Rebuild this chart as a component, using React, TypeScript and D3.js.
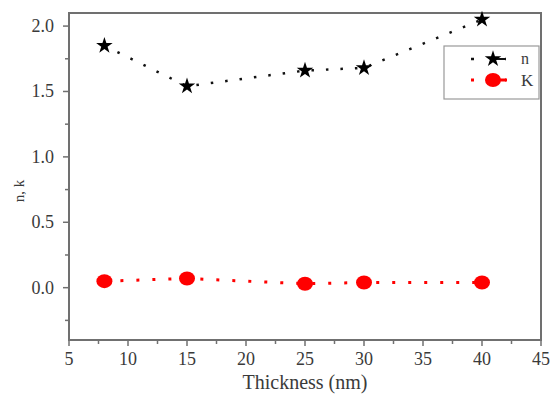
import React, { useRef, useEffect } from "react";
import * as d3 from "d3";

const thickness = [8, 15, 25, 30, 40];
const nValues = [1.85, 1.54, 1.66, 1.68, 2.05];
const kValues = [0.05, 0.07, 0.03, 0.04, 0.04];
const xTicks = [5, 10, 15, 20, 25, 30, 35, 40, 45];
const yTicks = [0, 0.5, 1.0, 1.5, 2.0];

export default function App() {
  const svgRef = useRef<SVGSVGElement>(null);

  useEffect(() => {
    const width = 558;
    const height = 394;
    const svg = d3.select(svgRef.current);
    svg.selectAll("*").remove();
    svg.attr("width", width).attr("height", height);

    const left = 69, right = 541, top = 13, bottom = 340;
    const x = d3.scaleLinear().domain([5, 45]).range([left, right]);
    const y = d3.scaleLinear().domain([-0.4, 2.1]).range([bottom, top]);
    const font = "Liberation Serif, DejaVu Serif, serif";
    const axisColor = "#707070";
    const textColor = "#3a3a3a";

    // frame
    svg.append("rect")
      .attr("x", left).attr("y", top)
      .attr("width", right - left).attr("height", bottom - top)
      .attr("fill", "none").attr("stroke", axisColor).attr("stroke-width", 2);

    // x ticks
    const xMinor = d3.range(5, 45.01, 2.5);
    svg.selectAll(".xt").data(xMinor).enter().append("line")
      .attr("x1", d => x(d)).attr("x2", d => x(d))
      .attr("y1", bottom).attr("y2", d => bottom + (d % 5 === 0 ? 6 : 4))
      .attr("stroke", axisColor).attr("stroke-width", 1.5);
    svg.selectAll(".xl").data(xTicks).enter().append("text")
      .attr("x", d => x(d)).attr("y", 365)
      .attr("text-anchor", "middle")
      .style("font-family", font).attr("font-size", 18).attr("fill", textColor)
      .text(d => d);

    // y ticks
    const yMinor = d3.range(-0.25, 2.01, 0.25);
    svg.selectAll(".yt").data(yMinor).enter().append("line")
      .attr("x1", left).attr("x2", d => left - (Math.abs(d * 2 - Math.round(d * 2)) < 1e-6 ? 6 : 4))
      .attr("y1", d => y(d)).attr("y2", d => y(d))
      .attr("stroke", axisColor).attr("stroke-width", 1.5);
    svg.selectAll(".yl").data(yTicks).enter().append("text")
      .attr("x", left - 15).attr("y", d => y(d) + 6)
      .attr("text-anchor", "end")
      .style("font-family", font).attr("font-size", 18).attr("fill", textColor)
      .text(d => d.toFixed(1));

    // axis titles
    svg.append("text")
      .attr("x", 305).attr("y", 389)
      .attr("text-anchor", "middle")
      .style("font-family", font).attr("font-size", 20).attr("fill", textColor)
      .text("Thickness (nm)");
    svg.append("text")
      .attr("transform", `translate(24,191) rotate(-90)`)
      .attr("text-anchor", "middle")
      .style("font-family", font).attr("font-size", 15).attr("fill", textColor)
      .text("n, k");

    const line = d3.line<number>()
      .x((_, i) => x(thickness[i]));

    const star = d3.symbol().type(d3.symbolStar).size(85);

    // n series
    svg.append("path")
      .attr("d", line.y(d => y(d))(nValues))
      .attr("fill", "none").attr("stroke", "#111")
      .attr("stroke-width", 2.5).attr("stroke-dasharray", "2.5,12");
    svg.selectAll(".star").data(nValues).enter().append("path")
      .attr("d", star)
      .attr("transform", (d, i) => `translate(${x(thickness[i])},${y(d)})`)
      .attr("fill", "#000");

    // K series
    svg.append("path")
      .attr("d", line.y(d => y(d))(kValues))
      .attr("fill", "none").attr("stroke", "#ff0000")
      .attr("stroke-width", 3).attr("stroke-dasharray", "3,13");
    svg.selectAll(".dot").data(kValues).enter().append("ellipse")
      .attr("cx", (d, i) => x(thickness[i])).attr("cy", d => y(d))
      .attr("rx", 8).attr("ry", 7)
      .attr("fill", "#ff0000");

    // legend
    const lg = svg.append("g");
    lg.append("rect")
      .attr("x", 444).attr("y", 46).attr("width", 95).attr("height", 53)
      .attr("fill", "#fff").attr("stroke", "#999").attr("stroke-width", 1.2);
    lg.append("line").attr("x1", 471).attr("x2", 506).attr("y1", 59).attr("y2", 59)
      .attr("stroke", "#111").attr("stroke-width", 2.5).attr("stroke-dasharray", "3,31");
    lg.append("line").attr("x1", 493).attr("x2", 506).attr("y1", 59).attr("y2", 59)
      .attr("stroke", "#111").attr("stroke-width", 2);
    lg.append("path").attr("d", star).attr("transform", "translate(493,59)").attr("fill", "#000");
    lg.append("text").attr("x", 521).attr("y", 64)
      .style("font-family", font).attr("font-size", 16).attr("fill", textColor).text("n");
    lg.append("line").attr("x1", 471).attr("x2", 506).attr("y1", 80).attr("y2", 80)
      .attr("stroke", "#ff0000").attr("stroke-width", 3).attr("stroke-dasharray", "3,31");
    lg.append("line").attr("x1", 493).attr("x2", 507).attr("y1", 80).attr("y2", 80)
      .attr("stroke", "#ff0000").attr("stroke-width", 3);
    lg.append("ellipse").attr("cx", 493).attr("cy", 80).attr("rx", 8).attr("ry", 7).attr("fill", "#ff0000");
    lg.append("text").attr("x", 521).attr("y", 86)
      .style("font-family", font).attr("font-size", 17).attr("fill", textColor).text("K");
  }, []);

  return <svg ref={svgRef} style={{ position: "absolute", left: 0, top: 0 }} />;
}
